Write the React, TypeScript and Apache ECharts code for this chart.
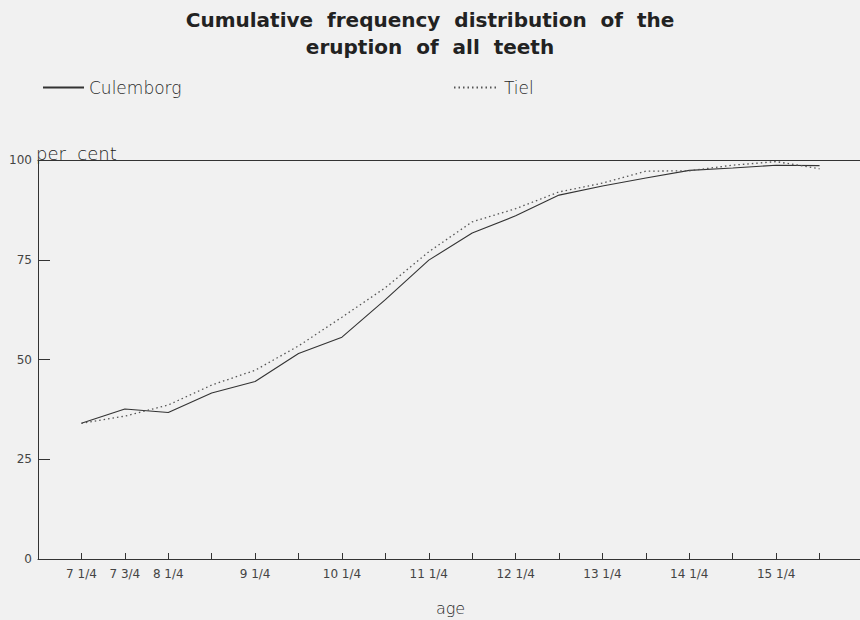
import React, { useEffect, useRef } from "react";
import * as echarts from "echarts";

const ageLabels = ["7 1/4", "7 3/4", "8 1/4", "", "9 1/4", "", "10 1/4", "", "11 1/4", "", "12 1/4", "", "13 1/4", "", "14 1/4", "", "15 1/4", ""];
const culemborg = [34, 37.6, 36.7, 41.6, 44.5, 51.5, 55.6, 65, 74.9, 81.7, 86, 91.2, 93.5, 95.5, 97.4, 98, 98.7, 98.6];
const tiel = [34, 35.8, 38.6, 43.6, 47.3, 53.4, 60.6, 68, 77, 84.5, 87.8, 92, 94.2, 97.2, 97.3, 98.7, 99.6, 97.8];
const yTicks = [0, 25, 50, 75, 100];

const FONT = "DejaVu Sans";

export default function App() {
  const ref = useRef<HTMLDivElement>(null);
  useEffect(() => {
    if (!ref.current) return;
    const chart = echarts.init(ref.current, undefined, { renderer: "svg" });
    const cats = ["", ...ageLabels, " "];
    const pad = (arr: number[]) => [null, ...arr, null];
    const legendText = { fontFamily: FONT, fontSize: 17, color: "#2a2a2a", fontWeight: 200 };
    chart.setOption({
      animation: false,
      backgroundColor: "#f1f1f1",
      title: {
        text: "Cumulative  frequency  distribution  of  the\neruption  of  all  teeth",
        left: "center",
        top: 1,
        textStyle: { fontFamily: FONT, fontSize: 20, fontWeight: "bold", color: "#222", lineHeight: 27 },
      },
      legend: [
        {
          data: ["Culemborg"],
          left: 37,
          top: 74,
          itemWidth: 41,
          itemHeight: 14,
          itemGap: 10,
          itemStyle: { color: "transparent", borderWidth: 0, opacity: 0 },
          textStyle: legendText,
        },
        {
          data: ["Tiel"],
          left: 448,
          top: 74,
          itemWidth: 45,
          itemHeight: 14,
          itemStyle: { color: "transparent", borderWidth: 0, opacity: 0 },
          textStyle: legendText,
        },
      ],
      grid: { left: 38, right: -3, top: 160, bottom: 61, containLabel: false, outerBoundsMode: "none" },
      graphic: [
        {
          type: "text",
          left: 36,
          top: 144,
          style: { text: "per  cent", font: `200 18px "${FONT}"`, fill: "#222" },
        },
      ],
      xAxis: [
        {
          type: "category",
          data: cats,
          boundaryGap: false,
          name: "age",
          nameLocation: "middle",
          nameGap: 41,
          nameTextStyle: { fontFamily: FONT, fontSize: 16, color: "#2a2a2a", fontWeight: 200 },
          axisLine: { lineStyle: { color: "#333", width: 1 } },
          axisTick: { inside: true, length: 6, lineStyle: { color: "#333" }, interval: 0 },
          axisLabel: { interval: 0, fontFamily: FONT, fontSize: 12, color: "#444", margin: 9 },
          splitLine: { show: false },
        },
        {
          type: "category",
          data: cats,
          boundaryGap: false,
          position: "top",
          axisLine: { show: true, lineStyle: { color: "#333", width: 1 } },
          axisTick: { show: false },
          axisLabel: { show: false },
        },
      ],
      yAxis: {
        type: "value",
        min: yTicks[0],
        max: yTicks[yTicks.length - 1],
        interval: 25,
        axisLine: { show: true, lineStyle: { color: "#333", width: 1 } },
        axisTick: { show: true, inside: true, length: 12, lineStyle: { color: "#333" } },
        axisLabel: { fontFamily: FONT, fontSize: 12, color: "#444", margin: 6 },
        splitLine: { show: false },
      },
      series: [
        {
          name: "Culemborg",
          type: "line",
          data: pad(culemborg),
          symbol: "none",
          lineStyle: { color: "#333", width: 1.1, type: "solid" },
          itemStyle: { color: "#333" },
        },
        {
          name: "Tiel",
          type: "line",
          data: pad(tiel),
          symbol: "none",
          lineStyle: { color: "#555", width: 1.3, type: [1.5, 3] },
          itemStyle: { color: "#555" },
        },
      ],
    });
    return () => chart.dispose();
  }, []);
  return (
    <div
      ref={ref}
      style={{ position: "fixed", left: 0, top: 0, width: 860, height: 620 }}
    />
  );
}
